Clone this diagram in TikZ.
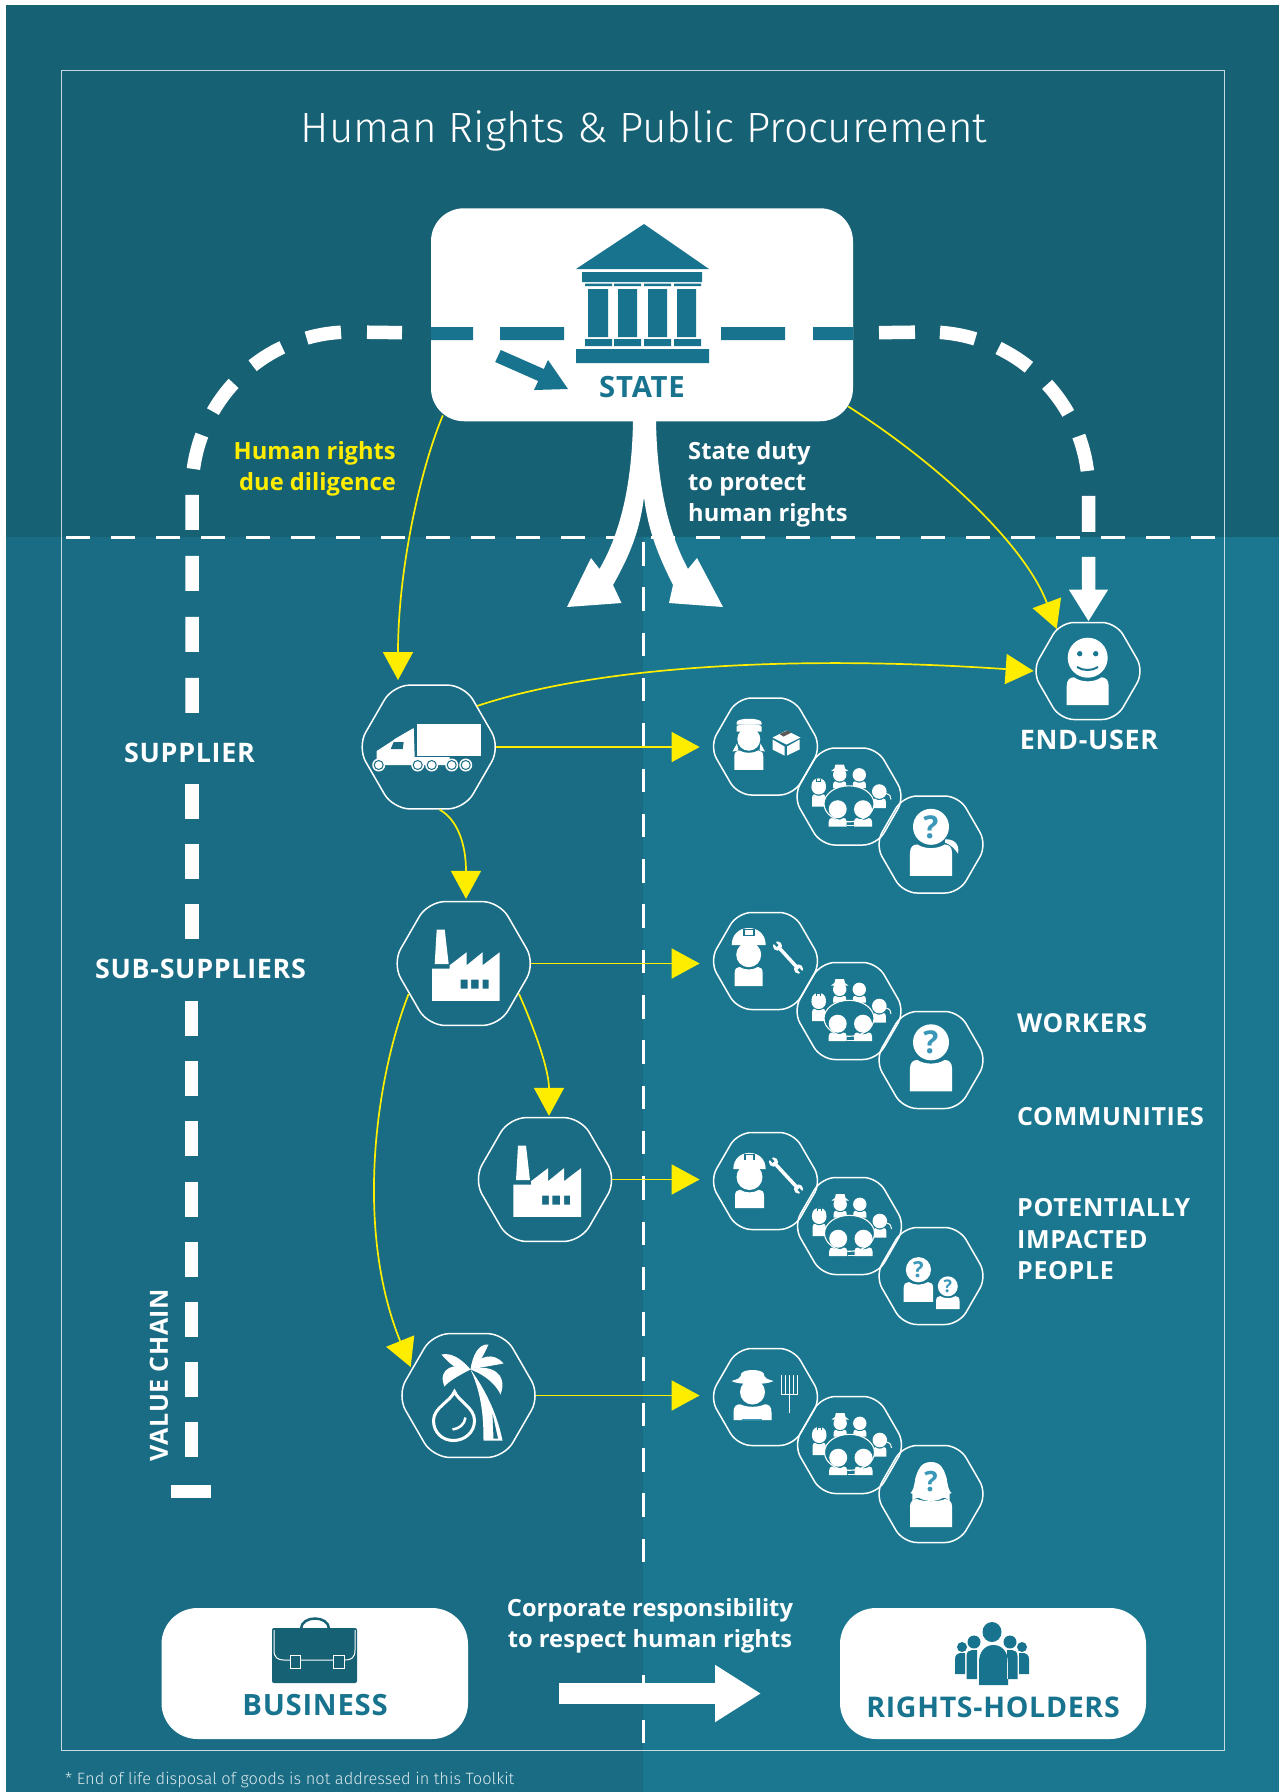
\documentclass[tikz,border=0pt]{standalone}
\usepackage{fontspec}
\usepackage{tikz}
\usetikzlibrary{calc}
\usetikzlibrary{arrows.meta}
\usetikzlibrary{shapes.geometric}
\setmainfont{Open Sans}
\newfontfamily\widefont{Open Sans}[LetterSpace=2.5]
\newfontfamily\lightfont{Fira Sans Light}
\definecolor{topbg}{HTML}{176175}
\definecolor{chainbg}{HTML}{196C84}
\definecolor{peoplebg}{HTML}{1A778F}
\definecolor{iconteal}{HTML}{18748E}
\definecolor{markyellow}{HTML}{FFED00}
\definecolor{qblue}{HTML}{3A97B8}

% head and shoulders, measured from the head centre
\newcommand{\personbust}[5]{
  \fill (#1,#2) circle (#3);
  \begin{scope}[shift={(#1,#2)}]
  \fill (-#4,#5) -- (-#4,#3+#4*0.4)
    .. controls (-#4,#3+#4*0.1) and (-#4*0.85,#3*0.98) .. (-#4*0.65,#3*0.98)
    .. controls (-#4*0.3,#3*1.25) and (#4*0.3,#3*1.25) .. (#4*0.65,#3*0.98)
    .. controls (#4*0.85,#3*0.98) and (#4,#3+#4*0.1) .. (#4,#3+#4*0.4)
    -- (#4,#5) -- cycle;
  \end{scope}
}
\newcommand{\hardhat}[3]{
  \begin{scope}[shift={(#1,#2)},scale=#3]
  \fill (-17,0) .. controls (-17,-11) and (-9,-17) .. (0,-17)
    .. controls (9,-17) and (17,-11) .. (17,0) -- cycle;
  \fill[peoplebg] (-6,-16) rectangle (6,-9);
  \fill (-4,-15) rectangle (4,-10);
  \end{scope}
}
\newcommand{\wrenchicon}[4]{
  \draw[line width=3.5pt] (#1,#2) -- (#3,#4);
  \fill (#1,#2) circle (4.6);
  \fill (#3,#4) circle (4.6);
  \draw[peoplebg,line width=2.6pt] (#1,#2) -- ($ (#1,#2)!-6pt!(#3,#4) $);
  \draw[peoplebg,line width=2.6pt] (#3,#4) -- ($ (#3,#4)!-6pt!(#1,#2) $);
}
\newcommand{\crowdicon}[2]{
  \begin{scope}[shift={(#1,#2)}]
  \personbust{-30.3}{-9.3}{7.3}{6.5}{19.3}
  \hardhat{-30.3}{-11}{0.42}
  \personbust{-9.3}{-21.7}{6.7}{6.5}{13.4}
  \fill (-18,-25.5) -- (-0.6,-25.5) -- (-4,-28) -- (-5,-32) -- (-13.6,-32) -- (-14.6,-28) -- cycle;
  \personbust{10.3}{-21.7}{6.7}{6.5}{13.4}
  \personbust{30.3}{-5}{7.3}{6.5}{16.7}
  \draw[line width=1pt] (37,-3) .. controls (41,-2) and (42,0) .. (42,3);
  \draw[white,fill=peoplebg,line width=1.1pt] (0,7.3) ellipse (25 and 18);
  \personbust{-11.3}{12.7}{9}{9}{17.3}
  \personbust{14}{12.7}{9}{9}{17.3}
  \draw[line width=0.8pt] (-2,29) -- (5.3,29);
  \end{scope}
}
\newcommand{\asker}[5]{
  \personbust{#1}{#2}{#3}{#3*1.17}{#3*#5}
  \pgfmathsetmacro{\qsize}{#3*1.75}
  \node[font=\bfseries\fontsize{\qsize}{\qsize}\selectfont,text=qblue,inner sep=0] (#4) at (#1,#2) {?};
}
\newcommand{\factoryicon}[2]{
  \begin{scope}[shift={(#1,#2)}]
  \fill (-27,-34) -- (-19,-34) -- (-15,0.7) -- (-29,0.7) -- cycle;
  \fill[even odd rule] (-31.6,5) -- (-14,5) -- (-14,1.7) -- (3,-11.3) -- (3,1.7) -- (19,-11.3) -- (19,1.7) -- (36,-11.3) -- (36,37.3) -- (-31.6,37.3) -- cycle
    (-3,16) rectangle (3.8,25) (7.4,16) rectangle (15,25) (19,16) rectangle (25,25);
  \end{scope}
}

\begin{document}
\begin{tikzpicture}[x=1pt,y=-1pt,
hexnode/.style = {regular polygon, regular polygon sides=6,
  minimum size=143pt, inner sep=0, draw=white, line width=1.5pt, rounded corners=17pt},
peoplehex/.style = {hexnode, minimum size=112pt, rounded corners=14pt},
whitebox/.style = {fill=white, rounded corners=33pt, inner sep=0},
boxlabel/.style = {text=iconteal, font=\widefont\bfseries\fontsize{29.3}{29.3}\selectfont, inner sep=0},
sidelabel/.style = {text=white, font=\widefont\bfseries\fontsize{25}{25}\selectfont, inner sep=0},
chainlabel/.style = {text=white, font=\widefont\bfseries\fontsize{26.9}{26.9}\selectfont, inner sep=0},
bodytext/.style = {text=white, font=\bfseries\fontsize{23.7}{31}\selectfont, inner sep=0, align=left},
duty/.style = {draw=markyellow, line width=1.7pt,
  -{Triangle[length=28pt,width=30pt,fill=markyellow]}},
chainline/.style = {draw=white, line width=13.5pt, dash pattern=on 35pt off 26pt}
]
\useasboundingbox (0,0) rectangle (1279,1792);

\fill[white] (0,0) rectangle (1279,1792);
\fill[topbg] (6,5) rectangle (1279,537);
\fill[chainbg] (6,537) rectangle (643,1792);
\fill[peoplebg] (643,537) rectangle (1279,1792);
\draw[white,opacity=0.75,line width=1pt] (61,70) rectangle (1224,1750);

\draw[white,line width=3pt,dash pattern=on 24pt off 21pt] (66,537) -- (1220,537);
\draw[white,line width=3pt,dash pattern=on 23.5pt off 21.8pt] (643,542) -- (643,1563);
\draw[white,line width=3pt] (643,1675) -- (643,1683);
\draw[white,line width=3pt] (643,1720) -- (643,1743);

% value chain bracket
\draw[chainline,dash phase=35pt] (428,333) -- (350,332)
  .. controls (263,332) and (192,403) .. (192,490) -- (192,713);
\draw[chainline,dash pattern=on 35pt off 25.2pt] (192,784) -- (192,939);
\draw[chainline,dash pattern=on 35pt off 25.2pt] (191.5,1001) -- (191.5,1460);
\coordinate (chainend) at (171,1491.5);
\draw[white,line width=13.5pt] (chainend) -- ++(40,0);
\coordinate (userdrop) at (1088.5,621.5);
\draw[chainline,dash phase=36pt,dash pattern=on 36pt off 25pt,
  -{Triangle[length=32pt,width=37pt,fill=white]}] (854,333) -- (929,332)
  .. controls (1016,332) and (1088.5,403) .. (1088.5,490) -- (userdrop);

% state
\node (statebox) [whitebox,minimum width=422pt,minimum height=213pt] at (642,314.75) {};
\fill[iconteal] (431,327) rectangle (473,340) (500,327) rectangle (564,340)
  (721,327) rectangle (785,340) (813,327) rectangle (853,340);
\fill[iconteal] (644,224) -- (709,269) -- (576,269) -- cycle
  (582,272) rectangle (702,282)
  (585,283.5) rectangle (612,286) (614,283.5) rectangle (641,286)
  (644,283.5) rectangle (671,286) (674,283.5) rectangle (701,286)
  (588,289) rectangle (608,337) (618,289) rectangle (637,337)
  (648,289) rectangle (667,337) (677,289) rectangle (696,337)
  (585,339) rectangle (612,346) (614,339) rectangle (641,346)
  (644,339) rectangle (671,346) (674,339) rectangle (701,346)
  (576,349) rectangle (709,363);
\fill[iconteal] (500.8,350) -- (543.8,369) -- (548,360) -- (568,389) -- (534,390)
  -- (538.2,381) -- (495.2,362) -- cycle;
\node (statelabel) [boxlabel] at (642,387.5) {STATE};

% split arrow
\fill[white] (633,421) .. controls (632,480) and (622,530) .. (599.5,569) -- (591,558)
  -- (567,607) -- (621.5,603) -- (613,585) .. controls (630,555) and (640,530) .. (644,497)
  .. controls (648,530) and (658,555) .. (673,585) -- (669,603) -- (723,607) -- (697,558)
  -- (688,569) .. controls (667,530) and (657,480) .. (656,421) -- cycle;

\node (titletext) [text=white,font=\lightfont\fontsize{42.3}{42.3}\selectfont,inner sep=0] at (644,131)
  {Human Rights \& Public Procurement};
\node (duelabel) [bodytext,align=right,text=markyellow,anchor=north east] at (396,441)
  {Human rights\\due diligence};
\node (dutylabel) [bodytext,anchor=north west] at (688,441)
  {State duty\\to protect\\human rights};

% supply chain
\node (truckhex) [hexnode] at (428.7,747) {};
\node (factoryhex) [hexnode] at (463.7,963.5) {};
\node (millhex) [hexnode] at (545,1179.5) {};
\node (palmhex) [hexnode] at (468.5,1395.5) {};
\node (userhex) [peoplehex] at (1088,671) {};

\node (driverhex) [peoplehex] at (765.5,746.5) {};
\node (crowdahex) [peoplehex] at (849,796.5) {};
\node (womanhex) [peoplehex] at (931,844.5) {};
\node (fitterhex) [peoplehex] at (765.5,961) {};
\node (crowdbhex) [peoplehex] at (849,1011) {};
\node (manhex) [peoplehex] at (931,1060) {};
\node (minerhex) [peoplehex] at (765.5,1181) {};
\node (crowdchex) [peoplehex] at (849.5,1226) {};
\node (pairhex) [peoplehex] at (931,1276) {};
\node (farmerhex) [peoplehex] at (765.5,1397) {};
\node (crowddhex) [peoplehex] at (849.5,1445) {};
\node (hairhex) [peoplehex] at (931,1494) {};

\draw[duty] ($ (statebox.south west) + (12,-6) $) .. controls (420,470) and (398,570) .. (398,680);
\draw[duty] ($ (statebox.south east) + (-5,-15) $) .. controls (940,465) and (1025,545) .. (1056.7,629);
\draw[duty] (477,706) .. controls (600,665) and (800,655) .. ($ (userhex.west) + (2.5,0) $);
\draw[duty,shorten <=-5pt] (truckhex.east) -- ($ (truckhex.east -| driverhex.west) + (-9,0) $);
\draw[duty,shorten <=-5pt] (factoryhex.east) -- ($ (factoryhex.east -| fitterhex.west) + (-9,0) $);
\draw[duty,shorten <=-5pt] (millhex.east) -- ($ (millhex.east -| minerhex.west) + (-9,0) $);
\draw[duty,shorten <=-5pt] (palmhex.east) -- ($ (palmhex.east -| farmerhex.west) + (-9,0) $);
\draw[duty] ($ (truckhex.south) + (11,0) $) .. controls (458,820) and (466,845) .. ($ (factoryhex.north) + (2.3,-2) $);
\draw[duty] (519,994) .. controls (535,1030) and (549,1070) .. ($ (millhex.north) + (4,-1) $);
\draw[duty] (408.6,994) .. controls (375,1080) and (355,1230) .. (410.7,1367);

% truck
\begin{scope}[shift={(428.7,747)},white]
\fill (-12,-23) rectangle (52,9);
\fill (-52,18) -- (-52,4) -- (-35,-7) -- (-34,-8) -- (-15,-19) -- (-14,10) -- (21,10) -- (21,18) -- cycle;
\fill[chainbg] (-35,-5) -- (-25,-5) -- (-26,2) -- (-38,2) -- cycle;
\fill (-50,18) circle (6.5) (-11,18) circle (6.5) (3,18) circle (6.5) (23,18) circle (6.5) (37,18) circle (6.5);
\draw[chainbg,line width=1pt] (-50,18) circle (4.5) (-11,18) circle (4.5) (3,18) circle (4.5) (23,18) circle (4.5) (37,18) circle (4.5);
\end{scope}
\begin{scope}[white]
\factoryicon{463.7}{963.5}
\factoryicon{545}{1179.5}
\end{scope}
% palm and drop
\begin{scope}[shift={(468.5,1395.5)},white]
\fill (2,-26) .. controls (-8,-38) and (-18,-43) .. (-27,-41) .. controls (-16,-28) and (-8,-24) .. (2,-26);
\fill (2,-26) .. controls (4,-40) and (10,-52) .. (20,-51) .. controls (14,-38) and (10,-30) .. (2,-26);
\fill (2,-26) .. controls (10,-40) and (25,-44) .. (35,-32) .. controls (24,-30) and (12,-28) .. (2,-26);
\fill (2,-26) .. controls (22,-32) and (40,-22) .. (32,-1) .. controls (28,-10) and (18,-20) .. (2,-26);
\fill (2,-26) .. controls (-12,-34) and (-32,-28) .. (-24,-9) .. controls (-20,-14) and (-10,-20) .. (2,-26);
\fill (2,-26) .. controls (14,-10) and (28,15) .. (34,45) -- (15,45) .. controls (15,25) and (14,0) .. (2,-26);
\fill[chainbg] (24,18) -- (29.5,43) -- (25,43) -- cycle;
\draw[line width=3pt] (-14,-4) .. controls (-18,6) and (-35,12) .. (-35,25) .. controls (-35,37) and (-26,45) .. (-15,45)
  .. controls (-4,45) and (6,37) .. (6,25) .. controls (6,12) and (-10,6) .. (-14,-4) -- cycle;
\draw[line width=2.5pt] (-3,22) .. controls (-4,29) and (-9,33) .. (-16,34);
\end{scope}

\begin{scope}[white]
% end user
\personbust{1087.7}{657.7}{20}{21}{47.3}
\fill[peoplebg] (1079.7,653.7) circle (2.7) (1095.7,653.7) circle (2.7);
\draw[peoplebg,line width=2pt] (1077,667) .. controls (1083,671) and (1092,671) .. (1098,667);

% driver and parcel
\begin{scope}[shift={(765.5,746.5)}]
\personbust{-16.7}{-7.3}{11.5}{14.5}{30.6}
\fill (-29,-15) -- (-4,-15) -- (-4,-20) .. controls (-4,-23) and (-29,-23) .. (-29,-20) -- cycle;
\fill (-29,-24) .. controls (-29,-29) and (-4,-29) .. (-4,-24) -- (-4,-22) -- (-29,-22) -- cycle;
\fill (-28.5,-3) -- (-33,5) -- (-27,4) -- cycle (-5,-3) -- (-0.5,5) -- (-6,4) -- cycle;
\fill (7,-9) -- (21,-16) -- (35,-9) -- (21,-2) -- cycle;
\fill[black!65] (14,-12.5) -- (22,-16) -- (26,-14) -- (18,-10) -- cycle;
\fill (7,-7) -- (19,0) -- (19,9) -- (7,3) -- cycle (21.5,0) -- (34,-7) -- (34,3) -- (21.5,9) -- cycle;
\end{scope}
\crowdicon{849}{796.5}
\begin{scope}[shift={(931,844.5)}]
\asker{0}{-17.7}{18}{q1}{2.72}
\fill (14,-5) .. controls (22,-6) and (29,-1) .. (27,9) .. controls (24,5) and (20,0) .. (14,-2) -- cycle;
\end{scope}

% fitter and wrench
\begin{scope}[shift={(765.5,961)}]
\personbust{-16.8}{-6.3}{12.5}{14}{31.3}
\hardhat{-16.8}{-16}{1}
\wrenchicon{12}{-15}{33}{8}
\end{scope}
\crowdicon{849}{1011}
\asker{931}{1042.3}{18}{q2}{2.72}

% miner and wrench
\begin{scope}[shift={(765.5,1181)}]
\personbust{-16}{-4}{13}{14.5}{31}
\hardhat{-16}{-12}{0.95}
\wrenchicon{8}{-19}{33}{8}
\end{scope}
\crowdicon{849.5}{1226}
\begin{scope}[shift={(931,1276)}]
\asker{-12.6}{-6.3}{12.6}{q3}{2.56}
\asker{16.8}{10.3}{10}{q4}{2.27}
\end{scope}

% farmer and fork
\begin{scope}[shift={(765.5,1397)}]
\personbust{-13}{-5}{12.5}{19}{28}
\fill (-34,-16) .. controls (-28,-18) and (-25,-18) .. (-24,-24) .. controls (-20,-28) and (-6,-28) .. (-2,-24)
  .. controls (-1,-18) and (2,-18) .. (8,-16) .. controls (2,-12) and (-28,-12) .. (-34,-16) -- cycle;
\draw[qblue,line width=1.5pt] (-24,22.5) -- (-4,22.5);
\draw[line width=1pt] (16,-22) -- (16,-3) -- (32,-3) -- (32,-22) (20,-22) -- (20,-3) (24,-22) -- (24,16) (28,-22) -- (28,-3);
\draw[line width=1.8pt] (24,-3) -- (24,6);
\end{scope}
\crowdicon{849.5}{1445}
\begin{scope}[shift={(931,1494)}]
\fill (-20.6,-1) .. controls (-14,-4) and (-19,-32) .. (0,-32) .. controls (19,-32) and (14,-4) .. (20.6,-1)
  .. controls (14,3) and (-14,3) .. (-20.6,-1) -- cycle;
\asker{0}{-12}{16}{q5}{0.5}
\fill (-21,33) -- (-21,12) .. controls (-21,8) and (-18,5) .. (-14,5) .. controls (-8,8) and (8,8) .. (14,5)
  .. controls (18,5) and (21,8) .. (21,12) -- (21,33) -- cycle;
\end{scope}
\end{scope}

\node (supplierlabel) [chainlabel] at (189.5,753) {SUPPLIER};
\node (sublabel) [chainlabel] at (200.5,968.5) {SUB-SUPPLIERS};
\node (userlabel) [chainlabel] at (1089,739.5) {END-USER};
\node (workerlabel) [sidelabel,anchor=west,font=\widefont\bfseries\fontsize{26}{26}\selectfont] at (1017,1023) {WORKERS};
\node (communitylabel) [sidelabel,anchor=west] at (1017,1117) {COMMUNITIES};
\node (impactlabel) [sidelabel,font=\widefont\bfseries\fontsize{25}{31.5}\selectfont,align=left,anchor=west] at (1017,1239.5)
  {POTENTIALLY\\IMPACTED\\PEOPLE};
\node (valuelabel) [sidelabel,rotate=90] at (159,1375) {VALUE CHAIN};

% business and rights holders
\node (businessbox) [whitebox,minimum width=306.5pt,minimum height=131pt,rounded corners=36pt] at (314.75,1673.5) {};
\node (holdersbox) [whitebox,minimum width=306pt,minimum height=131pt,rounded corners=36pt] at (993,1673.5) {};
\node (businesslabel) [boxlabel] at (315,1705) {BUSINESS};
\node (holderslabel) [boxlabel,font=\widefont\bfseries\fontsize{28.5}{28.5}\selectfont] at (993,1707) {RIGHTS-HOLDERS};
\fill[topbg,rounded corners=2pt] (272,1628) rectangle (357,1683);
\draw[topbg,line width=2.5pt] (301,1629) .. controls (301,1615) and (329,1615) .. (329,1629);
\draw[white,line width=1pt] (274,1630) -- (274,1650) .. controls (274,1658) and (278,1660) .. (284,1660) -- (345,1660) .. controls (351,1660) and (355,1658) .. (355,1650) -- (355,1630);
\draw[white,fill=topbg,line width=1pt] (290,1655) rectangle (300,1668) (333,1655) rectangle (344,1668);
\fill[iconteal] (992,1632) ellipse (9.5 and 10) (974,1642) circle (6.5) (1010,1642) circle (6.5) (962,1647) circle (5) (1022,1647) circle (5)
  (955,1674) -- (955,1659) .. controls (955,1655) and (958,1653) .. (960,1653) -- (965,1653) -- (965,1674) -- cycle
  (1029,1674) -- (1029,1659) .. controls (1029,1655) and (1026,1653) .. (1024,1653) -- (1019,1653) -- (1019,1674) -- cycle
  (966.5,1679) -- (966.5,1656) .. controls (966.5,1652) and (969,1650) .. (972,1650) -- (977,1650) -- (977,1679) -- cycle
  (1017.5,1679) -- (1017.5,1656) .. controls (1017.5,1652) and (1015,1650) .. (1012,1650) -- (1007,1650) -- (1007,1679) -- cycle
  (979,1685) -- (979,1662) .. controls (979,1652) and (985,1645) .. (993.5,1645) .. controls (1002,1645) and (1008,1652) .. (1008,1662) -- (1008,1685) -- cycle;

\node (corplabel) [bodytext,align=center] at (650,1625.5) {Corporate responsibility\\to respect human rights};
\coordinate (flowstart) at (559,1693.5);
\coordinate (flowend) at (761,1693.5);
\draw[white,line width=21pt,-{Triangle[length=46pt,width=54pt,fill=white]}] (flowstart) -- (flowend);

\node (footnote) [text=white,opacity=0.85,font=\lightfont\fontsize{16.4}{16.4}\selectfont,inner sep=0,anchor=west] at (65,1780)
  {* End of life disposal of goods is not addressed in this Toolkit};
\end{tikzpicture}
\end{document}
